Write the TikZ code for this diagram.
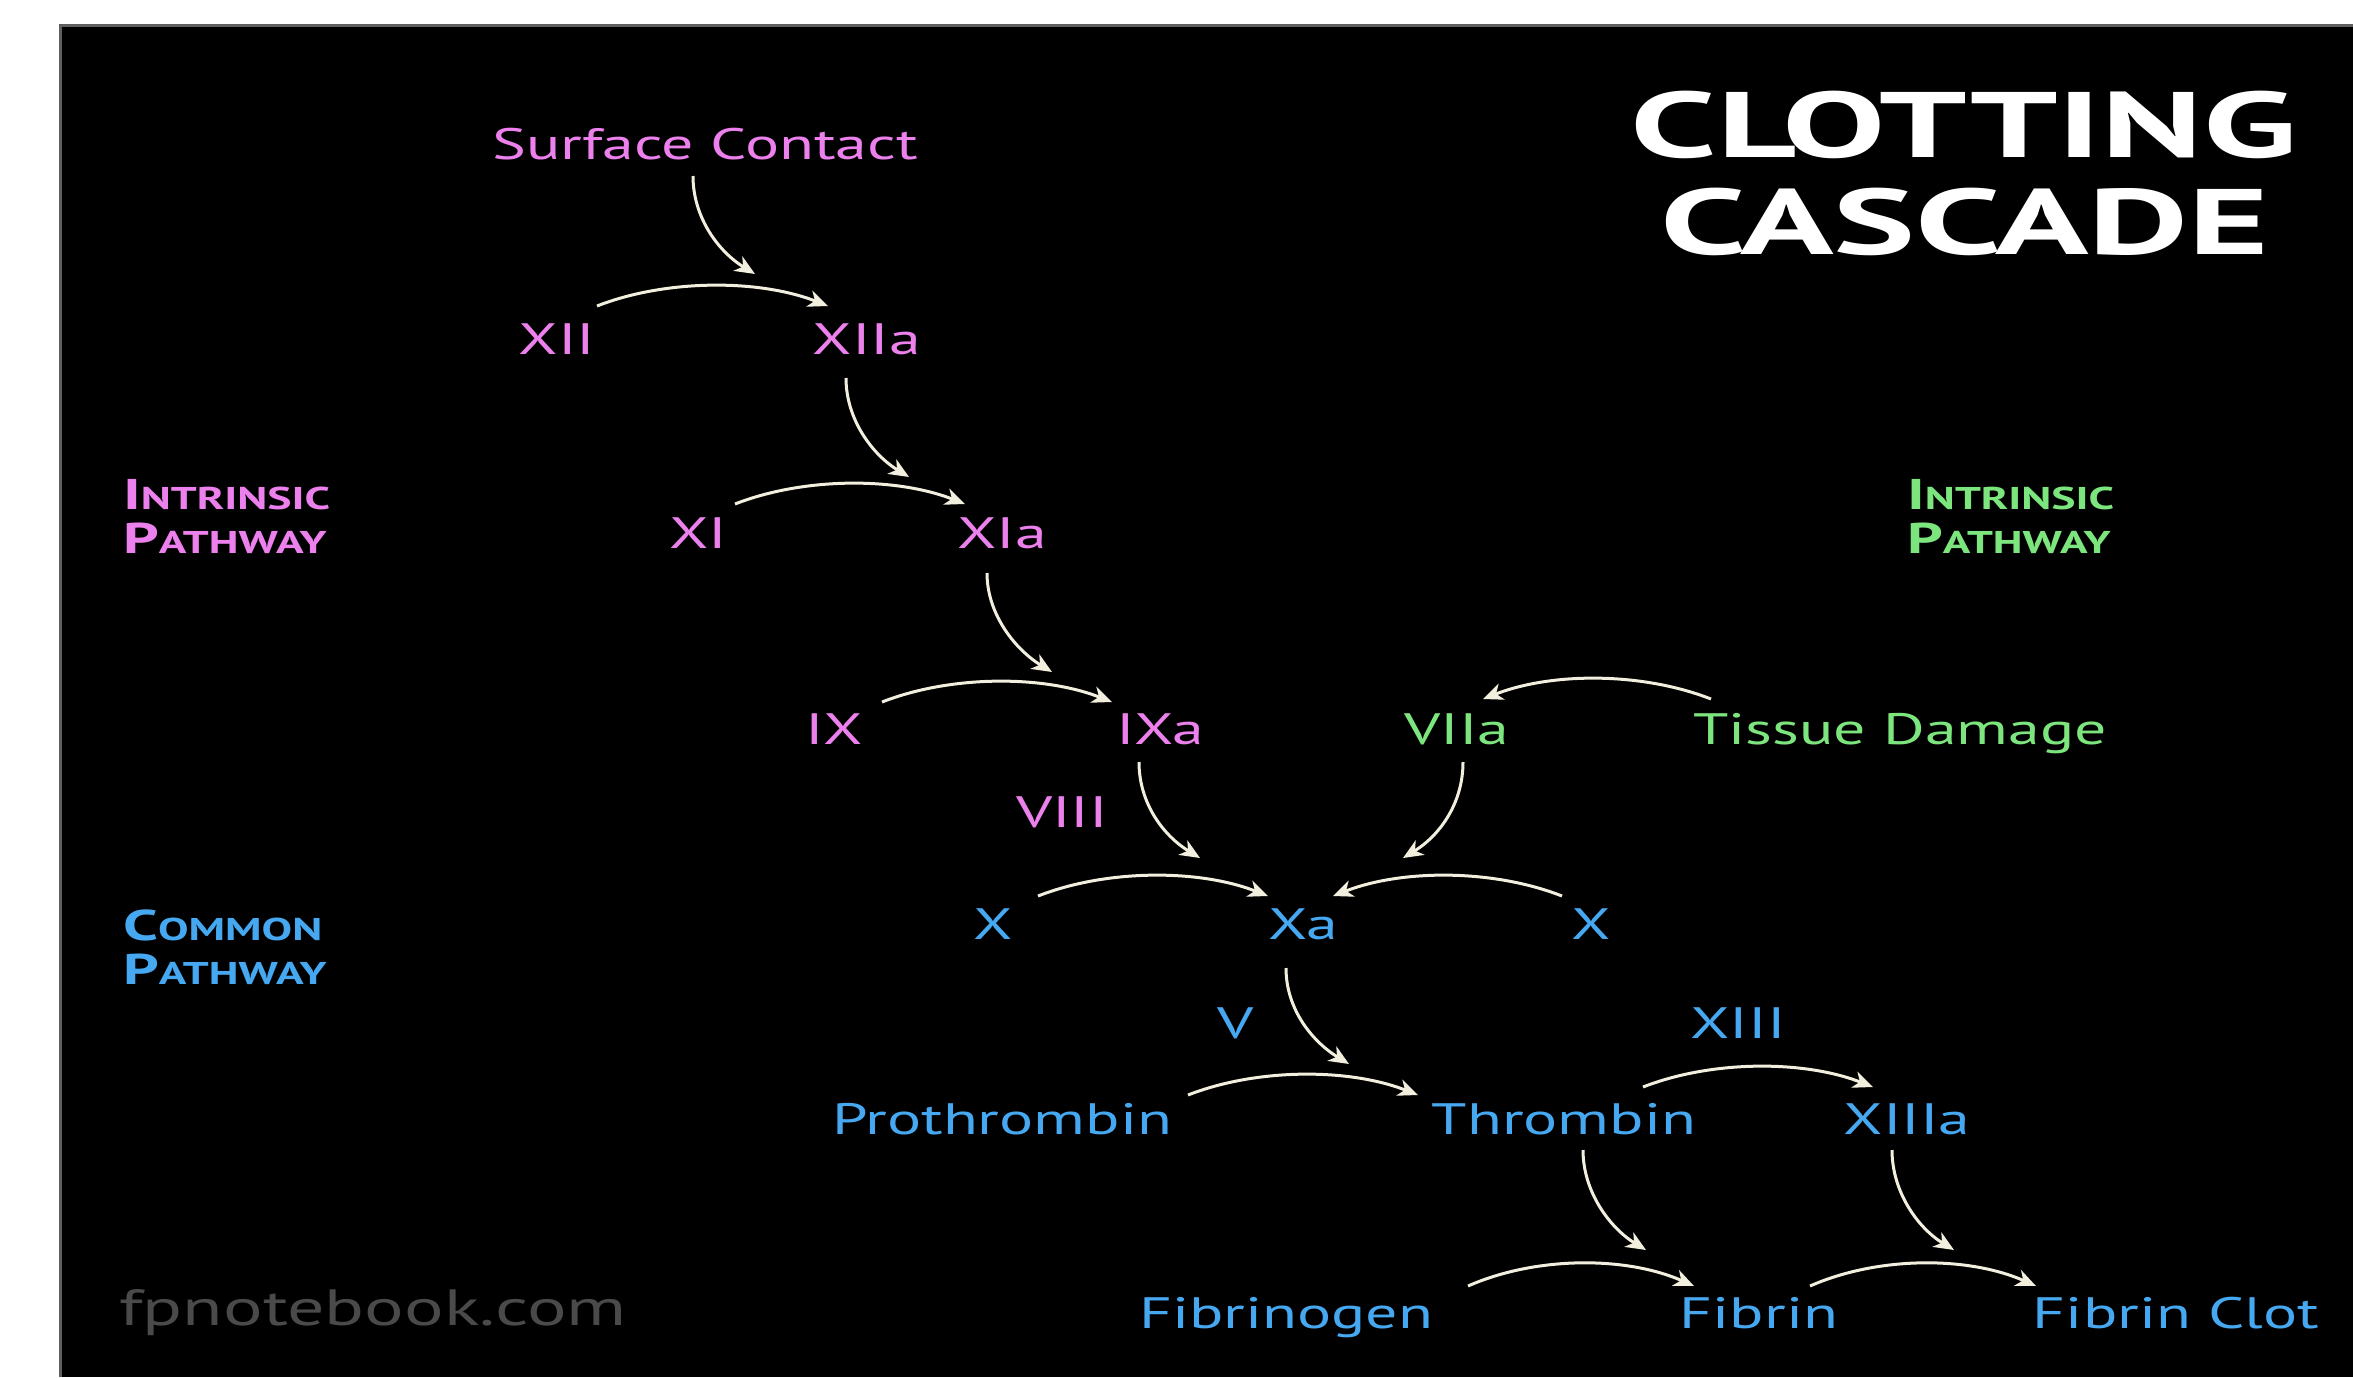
\documentclass[tikz,border=0pt]{standalone}
\usepackage{fontspec}
\setmainfont{PT Sans}
\newfontfamily\labfont[FakeStretch=1.45]{PT Sans}
\newfontfamily\titlefont[FakeStretch=1.66]{PT Sans}
\usetikzlibrary{arrows.meta,calc}
\definecolor{cpink}{RGB}{236,128,236}
\definecolor{cgreen}{RGB}{125,229,125}
\definecolor{cblue}{RGB}{70,168,240}
\definecolor{cream}{RGB}{242,239,222}
\definecolor{wmark}{RGB}{74,74,74}
\definecolor{frame}{RGB}{95,95,95}
\newcommand\pwsc[2]{{\fontsize{43}{44}\selectfont #1}{\fontsize{31.5}{44}\selectfont #2}}
\begin{document}
\begin{tikzpicture}[x=1pt,y=-1pt,
  lab/.style={font=\labfont\fontsize{44}{44}\selectfont, inner sep=0pt, text height=31pt, text depth=0pt},
  pinklab/.style={lab,text=cpink},
  greenlab/.style={lab,text=cgreen},
  bluelab/.style={lab,text=cblue},
  pwlab/.style={font=\labfont\bfseries\fontsize{43}{44}\selectfont, inner sep=0pt, align=left, anchor=west},
  titlelab/.style={font=\titlefont\bfseries\fontsize{93}{93}\selectfont, text=white, inner sep=0pt, text height=65pt, text depth=0pt},
  rx/.style={draw=cream, line width=3pt, -{Stealth[length=20pt,width=17pt,inset=6pt]}}]
\fill[white] (0,0) rectangle (2353,1377);
\useasboundingbox (0,0) rectangle (2353,1377);
\fill[black] (59,24) rectangle (2353,1377);
\draw[frame, line width=3pt] (60.5,1377) -- (60.5,25.5) -- (2353,25.5);

% title
\node[titlelab] (t1) at (1964,125) {CLOTTING};
\node[titlelab] (t2) at (1965,222) {CASCADE};

% pathway labels
\node[pwlab, text=cpink] (ipl) at (123,517) {\pwsc{I}{NTRINSIC}\\\pwsc{P}{ATHWAY}};
\node[pwlab, text=cgreen] (ipr) at (1907,517) {\pwsc{I}{NTRINSIC}\\\pwsc{P}{ATHWAY}};
\node[pwlab, text=cblue] (cpl) at (123,947) {\pwsc{C}{OMMON}\\\pwsc{P}{ATHWAY}};

% nodes
\node[pinklab] (SC) at (705,144) {Surface Contact};
\node[pinklab] (XII) at (557,339) {XII};
\node[pinklab] (XIIa) at (867,339) {XIIa};
\node[pinklab] (XI) at (698,533) {XI};
\node[pinklab] (XIa) at (1002,533) {XIa};
\node[pinklab] (IX) at (834,729) {IX};
\node[pinklab] (IXa) at (1160,729) {IXa};
\node[pinklab] (VIII) at (1062,812) {VIII};
\node[greenlab] (VIIa) at (1457,729) {VIIa};
\node[greenlab] (TD) at (1900,729) {Tissue Damage};
\node[bluelab] (Xl) at (993,924) {X};
\node[bluelab] (Xa) at (1303,924) {Xa};
\node[bluelab] (Xr) at (1591,924) {X};
\node[bluelab] (V) at (1236,1023) {V};
\node[bluelab] (XIII) at (1738,1023) {XIII};
\node[bluelab] (PT) at (1002,1119) {Prothrombin};
\node[bluelab] (TH) at (1564,1119) {Thrombin};
\node[bluelab] (XIIIa) at (1907,1119) {XIIIa};
\node[bluelab] (FG) at (1286,1313) {Fibrinogen};
\node[bluelab] (FB) at (1759,1313) {Fibrin};
\node[bluelab] (FC) at (2176,1313) {Fibrin Clot};
\node[lab, font=\labfont\fontsize{51}{51}\selectfont, text height=36pt, text=wmark] (wm) at (373,1307) {fpnotebook.com};

% horizontal reaction arcs
\draw[rx] ([shift={(40,-33)}]XII.center) .. controls +(69,-27) and +(-69,-27) .. ([shift={(-39,-33)}]XIIa.center);
\draw[rx] ([shift={(37,-29)}]XI.center) .. controls +(69,-27) and +(-69,-27) .. ([shift={(-37,-29)}]XIa.center);
\draw[rx] ([shift={(48,-27)}]IX.center) .. controls +(69,-27) and +(-69,-27) .. ([shift={(-48,-27)}]IXa.center);
\draw[rx] ([shift={(-189,-30)}]TD.center) .. controls +(-69,-27) and +(69,-27) .. ([shift={(26,-30)}]VIIa.center);
\draw[rx] ([shift={(45,-28)}]Xl.center) .. controls +(69,-27) and +(-69,-27) .. ([shift={(-35,-28)}]Xa.center);
\draw[rx] ([shift={(-29,-28)}]Xr.center) .. controls +(-69,-27) and +(69,-27) .. ([shift={(30,-28)}]Xa.center);
\draw[rx] ([shift={(186,-24)}]PT.center) .. controls +(69,-27) and +(-69,-27) .. ([shift={(-146,-24)}]TH.center);
\draw[rx] ([shift={(79,-32)}]TH.center) .. controls +(69,-27) and +(-69,-27) .. ([shift={(-34,-32)}]XIIIa.center);
\draw[rx] ([shift={(182,-27)}]FG.center) .. controls +(68,-30) and +(-68,-30) .. ([shift={(-65,-27)}]FB.center);
\draw[rx] ([shift={(51,-27)}]FB.center) .. controls +(68,-30) and +(-68,-30) .. ([shift={(-140,-27)}]FC.center);

% downward catalytic arrows
\draw[rx] ([shift={(-12,32)}]SC.center) .. controls +(0,42) and +(-36,-22) .. ([shift={(-112,-65)}]XIIa.center);
\draw[rx] ([shift={(-21,39)}]XIIa.center) .. controls +(0,42) and +(-36,-22) .. ([shift={(-93,-56)}]XIa.center);
\draw[rx] ([shift={(-15,40)}]XIa.center) .. controls +(0,42) and +(-36,-22) .. ([shift={(-108,-57)}]IXa.center);
\draw[rx] ([shift={(-21,33)}]IXa.center) .. controls +(0,42) and +(-36,-22) .. ([shift={(-103,-66)}]Xa.center);
\draw[rx] ([shift={(6,33)}]VIIa.center) .. controls +(0,42) and +(36,-22) .. ([shift={(100,-66)}]Xa.center);
\draw[rx] ([shift={(-17,44)}]Xa.center) .. controls +(0,42) and +(-36,-22) .. ([shift={(-215,-55)}]TH.center);
\draw[rx] ([shift={(19,31)}]TH.center) .. controls +(0,42) and +(-36,-22) .. ([shift={(-113,-63)}]FB.center);
\draw[rx] ([shift={(-15,31)}]XIIIa.center) .. controls +(0,42) and +(-36,-22) .. ([shift={(-222,-63)}]FC.center);
\end{tikzpicture}
\end{document}
